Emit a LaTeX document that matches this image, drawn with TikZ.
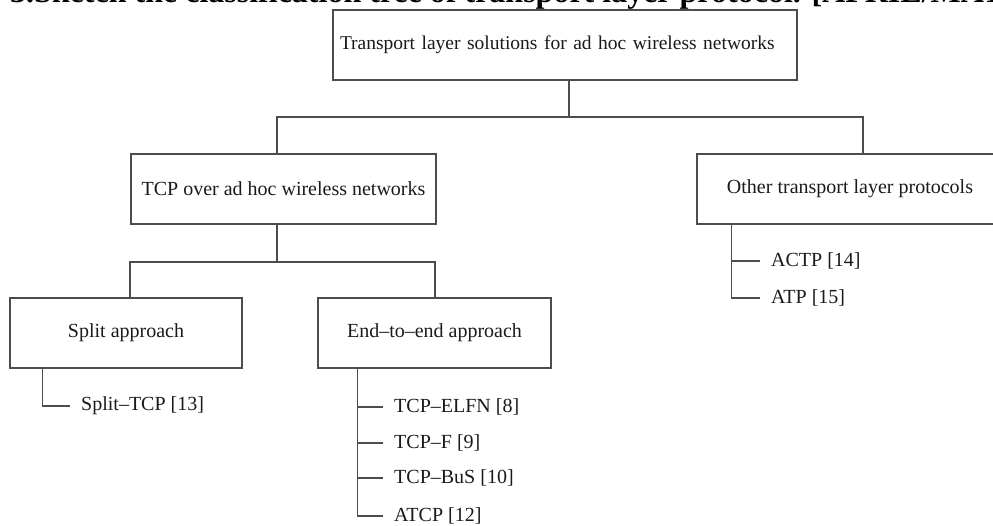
\documentclass[tikz,border=0pt]{standalone}
\usepackage{fontspec}
\setmainfont{Liberation Serif}
\usepackage{tikz}
\usetikzlibrary{positioning, calc}
\definecolor{lineGray}{HTML}{4d4d4d}
\definecolor{txtDark}{HTML}{1a1a1a}
\newcommand{\lblsize}{\fontsize{20}{24}\selectfont}

\begin{document}
\begin{tikzpicture}[x=1pt, y=-1pt, box/.style={draw=lineGray, line width=1.2pt, minimum height=70pt, inner sep=0pt, align=center, font=\lblsize, text=txtDark}, leaf/.style={anchor=west, inner xsep=11pt, inner ysep=0pt, font=\lblsize, text=txtDark}, edge/.style={draw=lineGray, line width=1.2pt}]
\useasboundingbox (0,0) rectangle (993,526);
\clip (0,0) rectangle (993,526);
\node[anchor=base west, inner sep=0pt, font=\fontsize{32}{36}\selectfont\bfseries] (title) at (10,3) {3.Sketch the classification tree of transport layer protocol. [APRIL/MAY};
\node[box, minimum width=464pt, text width=450pt, inner xsep=7pt, align=left, font=\fontsize{19.5}{24}\selectfont] (root) at (565,45) {Transport layer solutions for ad hoc wireless networks};
\node[box, minimum width=305pt] (tcp) at (283.5,189) {TCP over ad hoc wireless networks};
\node[box, minimum width=306pt] (other) at (850,189) {Other transport layer protocols};
\node[box, minimum width=232pt] (split) at (126,333) {Split approach};
\node[box, minimum width=233pt] (e2e) at (434.5,333) {End--to--end approach};
\node[leaf] (splittcp) at (70,406) {Split--TCP [13]};
\node[leaf] (elfn) at (383,407) {TCP--ELFN [8]};
\node[leaf] (tcpf) at (383,443) {TCP--F [9]};
\node[leaf] (bus) at (383,478) {TCP--BuS [10]};
\node[leaf] (atcp) at (383,516) {ATCP [12]};
\node[leaf] (actp) at (760,261) {ACTP [14]};
\node[leaf] (atp) at (760,298) {ATP [15]};
\coordinate (j1) at (569,117); \coordinate (j3) at (863,117);
\coordinate (j2) at (277,262); \coordinate (j4) at (435,262);
\draw[edge] (root.south -| j1) -- (j1);
\draw[edge] (tcp.north -| j2) |- (j3) -- (other.north -| j3);
\draw[edge] (tcp.south -| j2) -- (j2);
\draw[edge] ([xshift=4pt]split.north) |- (j4) -- (e2e.north -| j4);
\draw[edge] ([xshift=33pt]split.south west) |- (splittcp.west);
\draw[edge] ([xshift=40pt]e2e.south west) |- (atcp.west);
\foreach \n in {elfn, tcpf, bus} \draw[edge] (\n.west) -- (\n.west -| atcp.west) -- ++(-25pt,0);
\draw[edge] ([xshift=35pt]other.south west) |- (atp.west);
\draw[edge] (actp.west) -- ++(-28pt,0);
\end{tikzpicture}
\end{document}
